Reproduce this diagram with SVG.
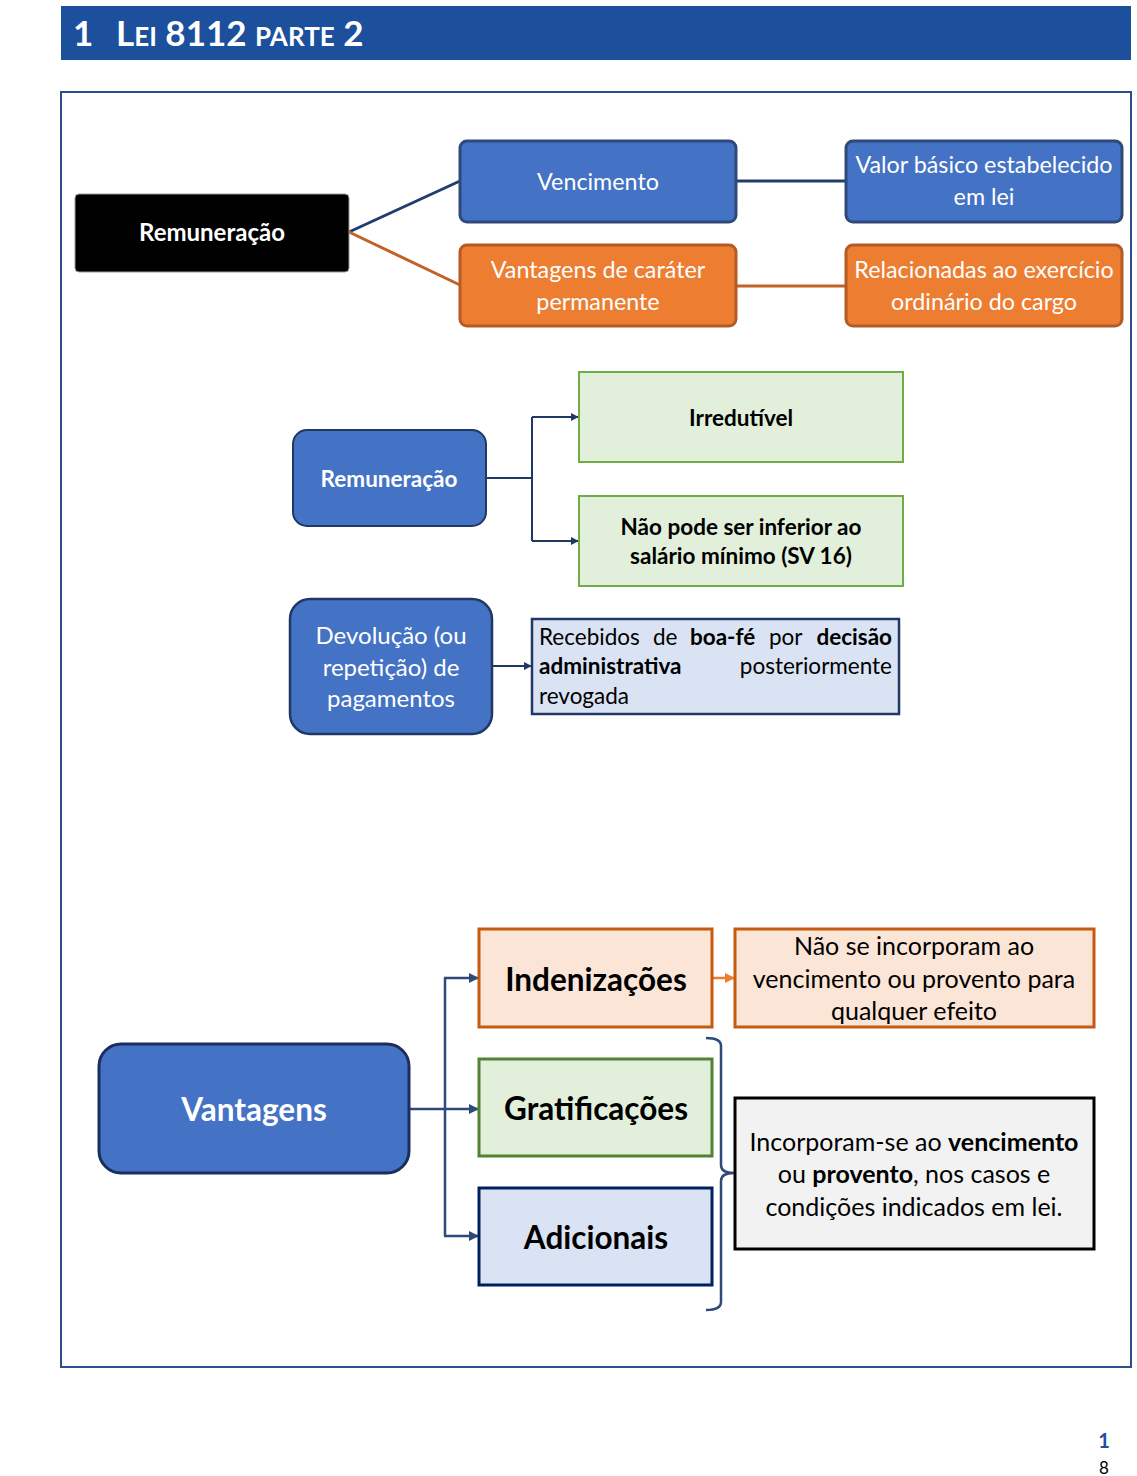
<svg xmlns="http://www.w3.org/2000/svg" width="1137" height="1476" viewBox="0 0 1137 1476">
<defs>
<style>
text{font-family:Lato,"Open Sans","Noto Sans",sans-serif;text-anchor:middle}
.w{fill:#fff}
.b{font-weight:bold}
.k{fill:#000}
.s{text-anchor:start}
.top{font-size:23.3px;fill:#fff}
</style>
<marker id="an" viewBox="0 0 10 10" refX="9" refY="5" markerWidth="4" markerHeight="4" orient="auto"><path d="M0,0L10,5L0,10z" fill="#203864"/></marker>
<marker id="an2" viewBox="0 0 10 10" refX="9" refY="5" markerWidth="4" markerHeight="4" orient="auto"><path d="M0,0L10,5L0,10z" fill="#2F4A7A"/></marker>
<marker id="ao" viewBox="0 0 10 10" refX="9" refY="5" markerWidth="4" markerHeight="4" orient="auto"><path d="M0,0L10,5L0,10z" fill="#ED7D31"/></marker>
</defs>
<rect width="1137" height="1476" fill="#fff"/>
<g id="header">
<rect x="61" y="6" width="1070" height="54" fill="#1C4F9C"/>
<text x="73" y="46" class="w b s" font-size="35">1<tspan x="116">L</tspan><tspan font-size="26">EI</tspan> 8112 <tspan font-size="26">PARTE</tspan> 2</text>
</g>
<rect id="frame" x="61" y="92" width="1070" height="1275" fill="none" stroke="#2A4F8A" stroke-width="2"/>
<g id="connectors" fill="none">
<path d="M349,232L460,181" stroke="#203D6E" stroke-width="3"/>
<path d="M349,232L460,285" stroke="#C0622A" stroke-width="3"/>
<path d="M736,181H846" stroke="#203D6E" stroke-width="3"/>
<path d="M736,286H846" stroke="#C0622A" stroke-width="3"/>
<path d="M486,478H532M532,417V541" stroke="#203864" stroke-width="2"/>
<path d="M532,417H578" stroke="#203864" stroke-width="2" marker-end="url(#an)"/>
<path d="M532,541H578" stroke="#203864" stroke-width="2" marker-end="url(#an)"/>
<path d="M492,666H531" stroke="#203864" stroke-width="2" marker-end="url(#an)"/>
<path d="M409,1109H478" stroke="#2F4A7A" stroke-width="2.5" marker-end="url(#an2)"/>
<path d="M445,978V1236" stroke="#2F4A7A" stroke-width="2.5"/>
<path d="M444,978H478" stroke="#2F4A7A" stroke-width="2.5" marker-end="url(#an2)"/>
<path d="M444,1236H478" stroke="#2F4A7A" stroke-width="2.5" marker-end="url(#an2)"/>
<path d="M712,978H734" stroke="#ED7D31" stroke-width="2.5" marker-end="url(#ao)"/>
<path d="M706,1038Q721,1038 721,1046V1165Q721,1173 734,1173Q721,1173 721,1181V1302Q721,1310 706,1310" stroke="#2F4A7A" stroke-width="2.5"/>
</g>
<g id="n-remun1">
<rect x="75" y="194" width="274" height="78" rx="4" fill="#000" stroke="#999" stroke-width="1"/>
<text x="212" y="241" class="w b" font-size="24">Remuneração</text>
</g>
<g id="n-venc">
<rect x="460" y="141" width="276" height="81" rx="7" fill="#4472C4" stroke="#2F4A7A" stroke-width="3"/>
<text x="598" y="190" class="top">Vencimento</text>
</g>
<g id="n-valor">
<rect x="846" y="141" width="276" height="81" rx="7" fill="#4472C4" stroke="#2F4A7A" stroke-width="3"/>
<text x="984" y="173" class="top">Valor básico estabelecido</text>
<text x="984" y="205" class="top">em lei</text>
</g>
<g id="n-vcp">
<rect x="460" y="245" width="276" height="81" rx="7" fill="#ED7D31" stroke="#B55A24" stroke-width="3"/>
<text x="598" y="278" class="top">Vantagens de caráter</text>
<text x="598" y="310" class="top">permanente</text>
</g>
<g id="n-rel">
<rect x="846" y="245" width="276" height="81" rx="7" fill="#ED7D31" stroke="#B55A24" stroke-width="3"/>
<text x="984" y="278" class="top">Relacionadas ao exercício</text>
<text x="984" y="310" class="top">ordinário do cargo</text>
</g>
<g id="n-remun2">
<rect x="293" y="430" width="193" height="96" rx="14" fill="#4472C4" stroke="#203864" stroke-width="2"/>
<text x="389" y="487" class="w b" font-size="22.5">Remuneração</text>
</g>
<g id="n-irred">
<rect x="579" y="372" width="324" height="90" fill="#E2EFDA" stroke="#70AD47" stroke-width="2"/>
<text x="741" y="426" class="k b" font-size="22.5">Irredutível</text>
</g>
<g id="n-naopode">
<rect x="579" y="496" width="324" height="90" fill="#E2EFDA" stroke="#70AD47" stroke-width="2"/>
<text x="741" y="535" class="k b" font-size="22.5">Não pode ser inferior ao</text>
<text x="741" y="564" class="k b" font-size="22.5">salário mínimo (SV 16)</text>
</g>
<g id="n-devol">
<rect x="290" y="599" width="202" height="135" rx="20" fill="#4472C4" stroke="#203864" stroke-width="2.5"/>
<text x="391" y="644" class="w" font-size="24">Devolução (ou</text>
<text x="391" y="676" class="w" font-size="24">repetição) de</text>
<text x="391" y="707" class="w" font-size="24">pagamentos</text>
</g>
<g id="n-receb" font-size="22.5">
<rect x="532" y="619" width="367" height="95" fill="#DAE3F3" stroke="#203864" stroke-width="2.5"/>
<text x="539" y="645" class="k s">Recebidos</text>
<text x="653" y="645" class="k s">de</text>
<text x="690" y="645" class="k b s">boa-fé</text>
<text x="769" y="645" class="k s">por</text>
<text x="892" y="645" class="k b" style="text-anchor:end">decisão</text>
<text x="539" y="674" class="k b s">administrativa</text>
<text x="892" y="674" class="k" style="text-anchor:end">posteriormente</text>
<text x="539" y="704" class="k s">revogada</text>
</g>
<g id="n-vant">
<rect x="99" y="1044" width="310" height="129" rx="22" fill="#4472C4" stroke="#1A2F5E" stroke-width="3"/>
<text x="254" y="1121" class="w b" font-size="31.5">Vantagens</text>
</g>
<g id="n-inden">
<rect x="479" y="929" width="233" height="98" fill="#FBE5D6" stroke="#C55A11" stroke-width="3"/>
<text x="596" y="991" class="k b" font-size="31.5">Indenizações</text>
</g>
<g id="n-grat">
<rect x="479" y="1059" width="233" height="97" fill="#E2EFDA" stroke="#548235" stroke-width="3"/>
<text x="596" y="1120" class="k b" font-size="31.5">Gratificações</text>
</g>
<g id="n-adic">
<rect x="479" y="1188" width="233" height="97" fill="#DAE3F3" stroke="#002060" stroke-width="3"/>
<text x="596" y="1249" class="k b" font-size="31.5">Adicionais</text>
</g>
<g id="n-naose" font-size="25">
<rect x="735" y="929" width="359" height="98" fill="#FBE5D6" stroke="#C55A11" stroke-width="3"/>
<text x="914" y="955" class="k">Não se incorporam ao</text>
<text x="914" y="988" class="k">vencimento ou provento para</text>
<text x="914" y="1020" class="k">qualquer efeito</text>
</g>
<g id="n-incorp" font-size="25">
<rect x="735" y="1098" width="359" height="151" fill="#F2F2F2" stroke="#000" stroke-width="3"/>
<text x="914" y="1151" class="k">Incorporam-se ao <tspan class="b">vencimento</tspan></text>
<text x="914" y="1183" class="k">ou <tspan class="b">provento</tspan>, nos casos e</text>
<text x="914" y="1216" class="k">condições indicados em lei.</text>
</g>
<g id="pagenum">
<text x="1104" y="1448" class="b" font-size="20" fill="#1C4F9C">1</text>
<text x="1104" y="1474" class="k" font-size="17">8</text>
</g>
</svg>
